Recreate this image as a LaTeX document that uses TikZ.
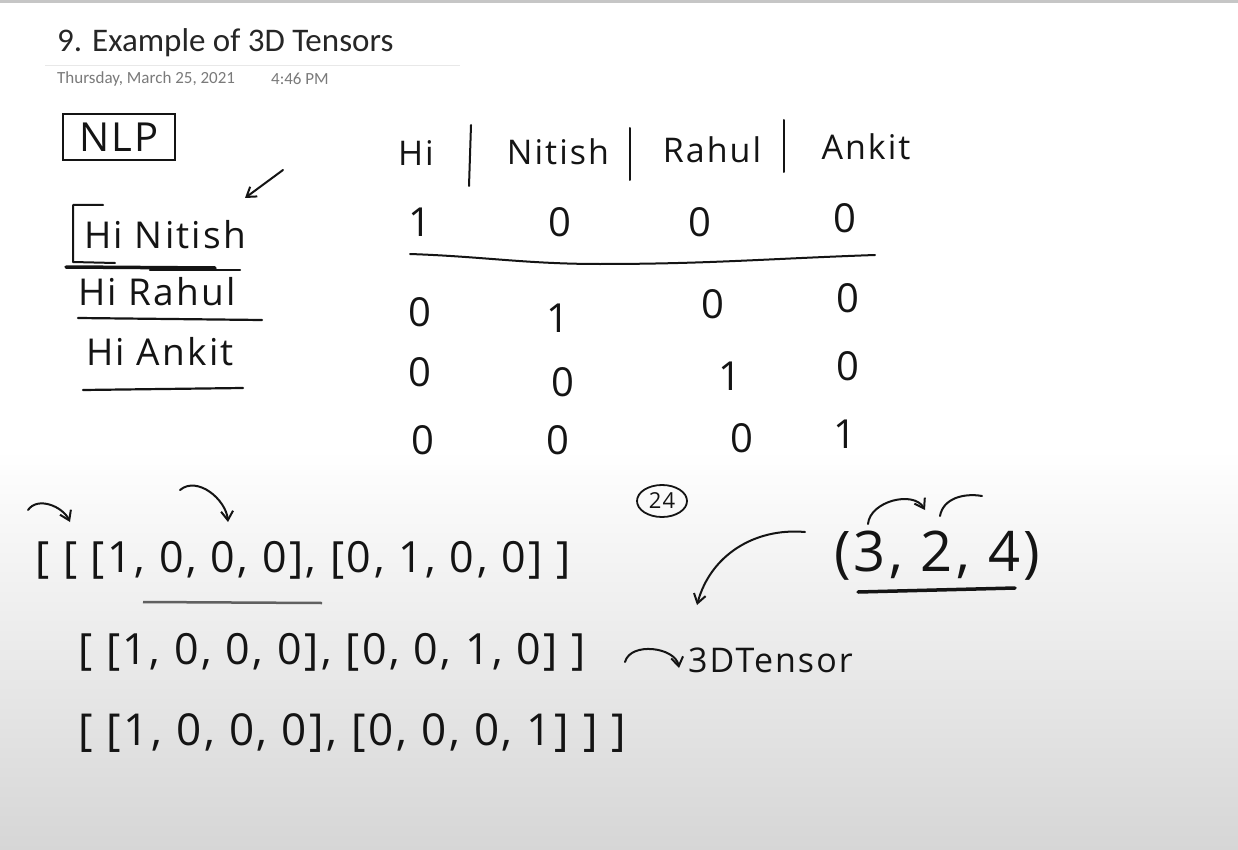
\documentclass[tikz,border=0pt]{standalone}
\usepackage{fontspec}
\setmainfont{Carlito}
\newfontfamily\handfont[LetterSpace=6]{Open Sans}
\usetikzlibrary{arrows.meta,shapes.geometric}

\definecolor{ink}{HTML}{141414}
\definecolor{datecol}{HTML}{7A7A7A}
\definecolor{paperlow}{HTML}{D6D6D6}

\begin{document}
\begin{tikzpicture}[x=1pt,y=-1pt,
  hand/.style={font=\handfont\fontsize{34}{36}\selectfont,text=ink,inner sep=0pt},
  sent/.style={hand,font=\handfont\fontsize{37}{39}\selectfont},
  cell/.style={hand,font=\handfont\fontsize{40}{42}\selectfont},
  big/.style={hand,font=\handfont\fontsize{43}{45}\selectfont},
  pen/.style={draw=ink,line width=2pt,line cap=round,line join=round},
  penarr/.style={pen,-{Straight Barb[length=9pt,width=12pt,line width=2pt]}},
  uline/.style={pen,line width=2.2pt}
]
  % paper
  \fill[white] (0,0) rectangle (1238,850);
  \shade[top color=white,bottom color=paperlow] (0,450) rectangle (1238,850);
  \fill[gray!45] (0,0) rectangle (1238,3);
  \useasboundingbox (0,0) rectangle (1238,850);

  % page header
  \node[anchor=west,font=\fontsize{33}{36}\selectfont,text=black!85,inner sep=0pt] (title) at (57,43) {9. Example of 3D Tensors};
  \draw[gray!18,line width=1pt] (45,66) -- (460,66);
  \node[anchor=west,font=\fontsize{17}{19}\selectfont,text=datecol,inner sep=0pt] (date) at (57,79) {Thursday, March 25, 2021};
  \node[anchor=west,font=\fontsize{17}{19}\selectfont,text=datecol,inner sep=0pt] (time) at (271,79) {4:46 PM};

  % sentences
  \node[hand,draw=ink,line width=2pt,minimum width=112pt,minimum height=46pt,font=\handfont\fontsize{40}{42}\selectfont] (nlp) at (119,137) {NLP};
  \node[sent,anchor=west] (s1) at (84,235) {Hi Nitish};
  \node[sent,anchor=west] (s2) at (78,292) {Hi Rahul};
  \node[sent,anchor=west] (s3) at (86,352) {Hi Ankit};
  \draw[pen] (103,205) -- (73,205) -- (73,262) -- (115,263);
  \draw[uline,line width=3.5pt] (66,267) -- (215,268);
  \draw[uline] (150,270) -- (240,270);
  \draw[uline] (78,318) -- (262,320);
  \draw[uline] (83,390) -- (243,388);
  \coordinate (p1) at (283,170);
  \coordinate (p2) at (245,198);
  \draw[penarr] (p1) -- (p2);

  % one-hot table
  \node[hand] (hHi) at (416,153) {Hi};
  \node[hand] (hNi) at (558,152) {Nitish};
  \node[hand] (hRa) at (712,150) {Rahul};
  \node[hand] (hAn) at (866,147) {Ankit};
  \draw[pen] (471,125) -- (469,186);
  \draw[pen] (630,128) -- (630,180);
  \draw[pen] (784,120) -- (784,172);
  \foreach \x/\y/\v [count=\i] in {420/222/1,560/222/0,700/222/0,845/218/0,
      420/312/0,558/318/1,713/304/0,848/298/0,
      420/372/0,563/382/0,730/376/1,848/366/0,
      423/440/0,558/440/0,742/438/0,845/434/1}
    \node[cell] (c\i) at (\x,\y) {\v};
  \draw[pen] (410,254) to[out=-2,in=180] (600,264) to[out=0,in=182] (875,255);
  \node[hand,draw=ink,line width=1.8pt,ellipse,inner sep=0pt,minimum width=50pt,minimum height=32pt,font=\handfont\fontsize{22}{24}\selectfont] (cnt) at (662,501) {24};

  % 3D tensor
  \node[big,anchor=west] (r1) at (35,560) {[ [ [1, 0, 0, 0], [0, 1, 0, 0] ]};
  \node[big,anchor=west] (r2) at (78,652) {[ [1, 0, 0, 0], [0, 0, 1, 0] ]};
  \node[big,anchor=west,font=\handfont\fontsize{44}{46}\selectfont] (r3) at (78,733) {[ [1, 0, 0, 0], [0, 0, 0, 1] ] ]};
  \draw[gray!75!black,line width=2.5pt] (143,602) -- (322,603);
  \coordinate (q1) at (28,510);
  \coordinate (q2) at (70,522);
  \draw[penarr] (q1) to[out=55,in=115] (q2);
  \coordinate (q3) at (180,490);
  \coordinate (q4) at (228,522);
  \draw[penarr] (q3) to[out=40,in=95] (q4);

  \node[hand,font=\handfont\fontsize{56}{58}\selectfont] (shape) at (937,556) {(3, 2, 4)};
  \draw[uline,line width=3.5pt] (858,592) -- (1015,588);
  \coordinate (d1) at (868,524);
  \coordinate (d2) at (925,510);
  \draw[penarr] (d1) to[out=85,in=120] (d2);
  \coordinate (d3) at (940,516);
  \coordinate (d4) at (982,496);
  \draw[pen] (d3) to[out=80,in=170] (d4);
  \coordinate (b1) at (805,532);
  \coordinate (b2) at (697,605);
  \draw[penarr] (b1) to[out=175,in=75] (b2);

  \node[hand,anchor=west,font=\handfont\fontsize{34}{36}\selectfont] (lbl) at (688,660) {3DTensor};
  \coordinate (t1) at (625,662);
  \coordinate (t2) at (679,668);
  \draw[penarr] (t1) to[out=75,in=100] (t2);
\end{tikzpicture}
\end{document}
